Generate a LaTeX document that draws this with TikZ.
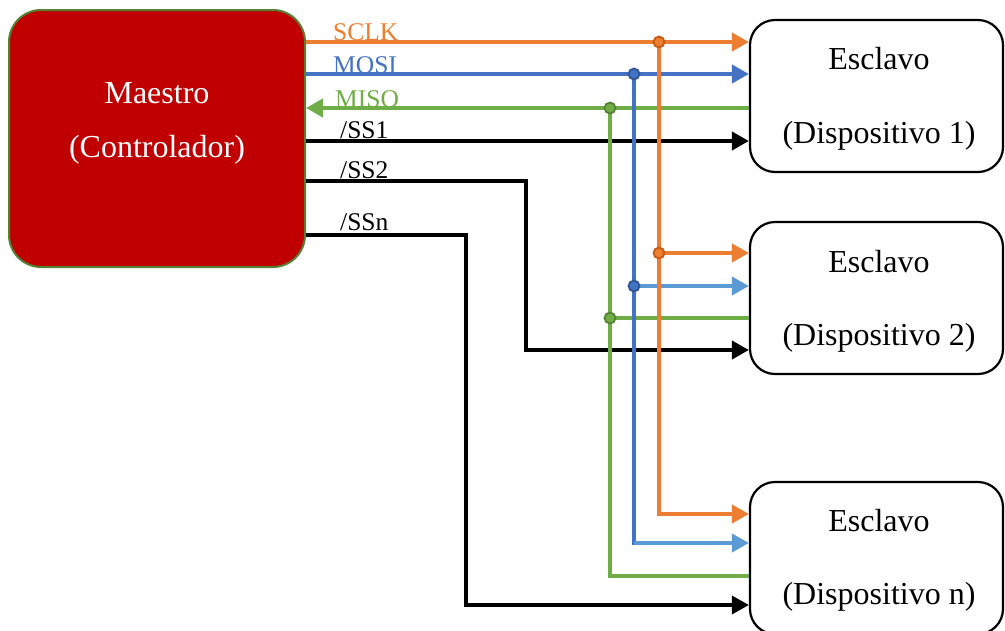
\documentclass[tikz,border=0pt]{standalone}
\usepackage{fontspec}
\setmainfont{Liberation Serif}
\usetikzlibrary{arrows.meta,calc}
\definecolor{cO}{HTML}{ED7D31}
\definecolor{cOd}{HTML}{C55A11}
\definecolor{cB}{HTML}{4472C4}
\definecolor{cBd}{HTML}{2F5597}
\definecolor{cBl}{HTML}{5B9BD5}
\definecolor{cG}{HTML}{70AD47}
\definecolor{cGd}{HTML}{548235}
\definecolor{cR}{HTML}{C00000}
\begin{document}
\begin{tikzpicture}[x=1pt,y=-1pt,
  master/.style={draw=cGd,line width=2pt,fill=cR,rounded corners=32pt,
    minimum width=296pt,minimum height=257pt,inner sep=0pt},
  slave/.style={draw=black,line width=2.2pt,fill=white,rounded corners=25pt,
    minimum width=253pt,minimum height=152pt,inner sep=0pt},
  mtext/.style={text=white,font=\fontsize{32}{38}\selectfont,inner sep=0pt},
  stext/.style={text=black,font=\fontsize{32}{38}\selectfont,inner sep=0pt},
  lbl/.style={font=\fontsize{25.5}{30}\selectfont,inner sep=0pt,anchor=base west},
  sig/.style={line width=4pt},
  tip/.style={-{Triangle[length=17pt,width=18pt]}},
  dot/.style={line width=1.8pt},
]
\useasboundingbox (0,0) rectangle (1005,630);

% boxes
\node[master] (master) at (157,138.5) {};
\node[mtext] (mt1) at (157,93) {Maestro};
\node[mtext] (mt2) at (157,150) {(Controlador)};

\node[slave] (s1) at (876.5,96) {};
\node[stext] (s1a) at (879,59) {Esclavo};
\node[stext] (s1b) at (879,136) {(Dispositivo 1)};

\node[slave] (s2) at (876.5,298) {};
\node[stext] (s2a) at (879,262) {Esclavo};
\node[stext] (s2b) at (879,338) {(Dispositivo 2)};

\node[slave] (sn) at (876.5,558) {};
\node[stext] (sna) at (879,521) {Esclavo};
\node[stext] (snb) at (879,597) {(Dispositivo n)};

% labels
\node[lbl,text=cO] (lsclk) at (333,40) {SCLK};
\node[lbl,text=cB] (lmosi) at (333,73) {MOSI};
\node[lbl,text=cG] (lmiso) at (335,107) {MISO};
\node[lbl] (lss1) at (340,138) {/SS1};
\node[lbl] (lss2) at (340,178) {/SS2};
\node[lbl] (lssn) at (340,230) {/SSn};

% junction coordinates
\coordinate (jO1) at (659,42);
\coordinate (jB1) at (634,74);
\coordinate (jG1) at (610,108);
\coordinate (jO2) at (659,253);
\coordinate (jB2) at (634,286);
\coordinate (jG2) at (610,318);
\coordinate (cOn) at (659,514);
\coordinate (cBn) at (634,543);
\coordinate (cGn) at (610,576);
\coordinate (k1) at (0,141);
\coordinate (b2a) at (526,181);
\coordinate (b2b) at (526,350);
\coordinate (bna) at (466,235);
\coordinate (bnb) at (466,605);

% black select lines
\draw[sig,tip,line width=4.5pt] (master.east |- k1) -- (s1.west |- k1);
\draw[sig,tip] (master.east |- b2a) -- (b2a) -- (b2b) -- (s2.west |- b2b);
\draw[sig,tip,line width=3.5pt] (master.east |- bna) -- (bna) -- (bnb) -- (sn.west |- bnb);

% MISO (green)
\draw[sig,cG] (jG1) -- (cGn) -- (sn.west |- cGn);
\draw[sig,cG] (jG2) -- (s2.west |- jG2);
\draw[sig,cG,tip] (s1.west |- jG1) -- (master.east |- jG1);

% MOSI (blue)
\draw[sig,cB,line cap=rect] (jB1) -- (cBn);
\draw[sig,cBl,tip] (cBn) -- (sn.west |- cBn);
\draw[sig,cBl,tip] (jB2) -- (s2.west |- jB2);
\draw[sig,cB,tip] (master.east |- jB1) -- (s1.west |- jB1);

% SCLK (orange)
\draw[sig,cO,tip] (jO1) -- (cOn) -- (sn.west |- cOn);
\draw[sig,cO,tip] (jO2) -- (s2.west |- jO2);
\draw[sig,cO,tip] (master.east |- jO1) -- (s1.west |- jO1);

% dots
\filldraw[dot,fill=cO,draw=cOd] (jO1) circle (5.5pt);
\filldraw[dot,fill=cO,draw=cOd] (jO2) circle (5.5pt);
\filldraw[dot,fill=cB,draw=cBd] (jB1) circle (5.5pt);
\filldraw[dot,fill=cB,draw=cBd] (jB2) circle (5.5pt);
\filldraw[dot,fill=cG,draw=cGd] (jG1) circle (5.5pt);
\filldraw[dot,fill=cG,draw=cGd] (jG2) circle (5.5pt);
\end{tikzpicture}
\end{document}
